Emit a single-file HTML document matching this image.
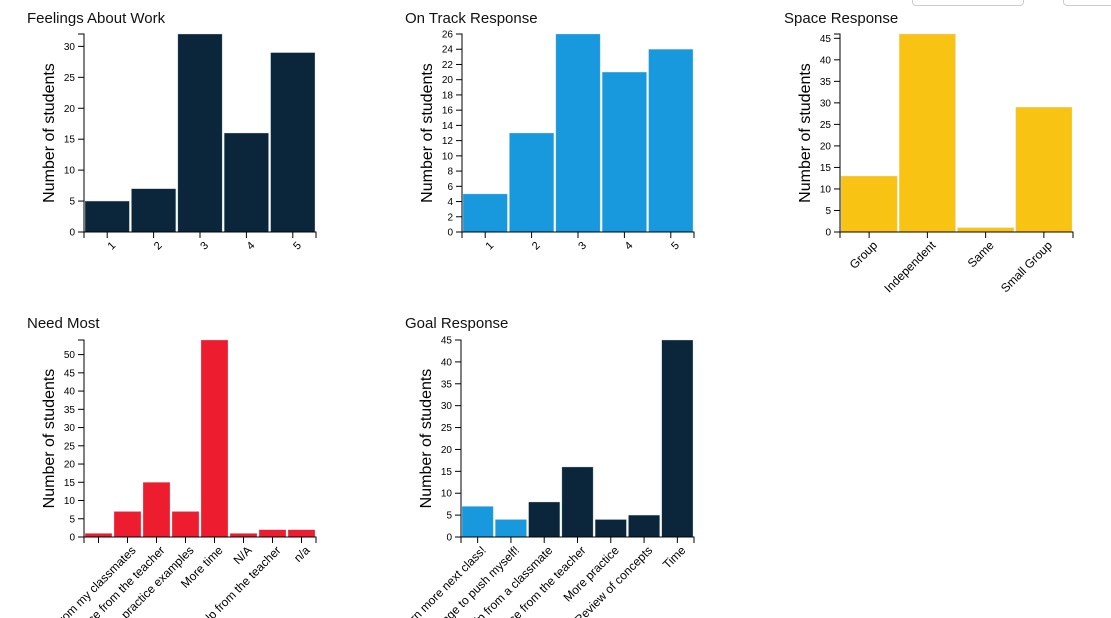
<!DOCTYPE html>
<html><head><meta charset="utf-8"><style>
body{margin:0;width:1111px;height:618px;overflow:hidden;background:#fff;font-family:"Liberation Sans",sans-serif}
.title{position:absolute;font-size:15px;color:#111}
.btn{position:absolute;top:-6px;height:10px;border:1px solid #ccc;border-radius:4px}
</style></head><body>
<div class="btn" style="left:912px;width:110px"></div>
<div class="btn" style="left:1063px;width:60px"></div>
<div class="title" style="left:27px;top:10px">Feelings About Work</div>
<div class="title" style="left:405px;top:10px">On Track Response</div>
<div class="title" style="left:784px;top:10px">Space Response</div>
<div class="title" style="left:27px;top:315px">Need Most</div>
<div class="title" style="left:405px;top:315px">Goal Response</div>
<svg id="svg" width="1111" height="618" style="position:absolute;left:0;top:0;overflow:hidden"></svg>
<script>
const feelCats=["1","2","3","4","5"];
const feelVals=[5,7,32,16,29];
const feelTicks=[0,5,10,15,20,25,30];
const trackCats=["1","2","3","4","5"];
const trackVals=[5,13,26,21,24];
const trackTicks=[0,2,4,6,8,10,12,14,16,18,20,22,24,26];
const spaceCats=["Group","Independent","Same","Small Group"];
const spaceVals=[13,46,1,29];
const spaceTicks=[0,5,10,15,20,25,30,35,40,45];
const needCats=["","Help from my classmates","More guidance from the teacher","More practice examples","More time","N/A","One-on-one help from the teacher","n/a"];
const needVals=[1,7,15,7,54,1,2,2];
const needTicks=[0,5,10,15,20,25,30,35,40,45,50];
const goalCats=["Learn more next class!","Challenge to push myself!","Help from a classmate","More guidance from the teacher","More practice","Review of concepts","Time"];
const goalVals=[7,4,8,16,4,5,45];
const goalTicks=[0,5,10,15,20,25,30,35,40,45];
const goalColors=["#1899dd","#1899dd","#0b253a","#0b253a","#0b253a","#0b253a","#0b253a"];
const NS="http://www.w3.org/2000/svg";
const svg=document.getElementById('svg');
function mk(tag,attrs,parent){const e=document.createElementNS(NS,tag);for(const k in attrs)e.setAttribute(k,attrs[k]);(parent||svg).appendChild(e);return e;}
function chart(name,x0,yTop,yBot,w,cats,vals,ticks,max,colors,rotLong){
  const g=mk('g',{});
  
  
  const y=v=>yBot-(v/max)*(yBot-yTop);
  const bw=w/cats.length;
  vals.forEach((v,i)=>{
    const r=mk('rect',{x:x0+i*bw+1,y:y(v),width:bw-2,height:yBot-y(v),fill:colors[i],stroke:'#cdd',"stroke-width":0.6,"stroke-opacity":0.6},g);
    
    
  });
  mk('path',{d:`M${x0-6},${yTop}H${x0}V${yBot}H${x0-6}`,fill:'none',stroke:'#000'},g);
  ticks.forEach(t=>{
    mk('line',{x1:x0-6,x2:x0,y1:y(t),y2:y(t),stroke:'#000'},g);
    const tx=mk('text',{x:x0-9,y:y(t)+3.5,"font-size":10,"text-anchor":"end",fill:'#000'},g);tx.textContent=t;
  });
  mk('path',{d:`M${x0},${yBot+6}V${yBot}H${x0+w}V${yBot+6}`,fill:'none',stroke:'#000'},g);
  cats.forEach((c,i)=>{
    const cx=x0+i*bw+bw/2;
    mk('line',{x1:cx,x2:cx,y1:yBot,y2:yBot+6,stroke:'#000'},g);
    const ax=cx+9, ay=yBot+14;
    const tx=mk('text',{x:ax,y:ay,"font-size":rotLong?12:11,"text-anchor":"end",fill:'#000',transform:`rotate(-45 ${ax} ${ay})`},g);
    tx.textContent=c;
  });
  const yt=mk('text',{x:0,y:0,"font-size":16,"text-anchor":"middle",fill:'#000',transform:`translate(${x0-30},${(yTop+yBot)/2}) rotate(-90)`},g);
  yt.textContent="Number of students";
  
  
}
const dark=c=>c.map(()=>"#0b253a");
chart('feelings',84,34,232,232,feelCats,feelVals,feelTicks,32,dark(feelCats),false);
chart('ontrack',462,34,232,232,trackCats,trackVals,trackTicks,26,trackCats.map(()=>"#1899dd"),false);
chart('space',840,34,232,233,spaceCats,spaceVals,spaceTicks,46,spaceCats.map(()=>"#f9c313"),true);
chart('needmost',84,340,537,232,needCats,needVals,needTicks,54,needCats.map(()=>"#ed1c2e"),true);
chart('goal',461,340,537,233,goalCats,goalVals,goalTicks,45,goalColors,true);
</script>
</body></html>
